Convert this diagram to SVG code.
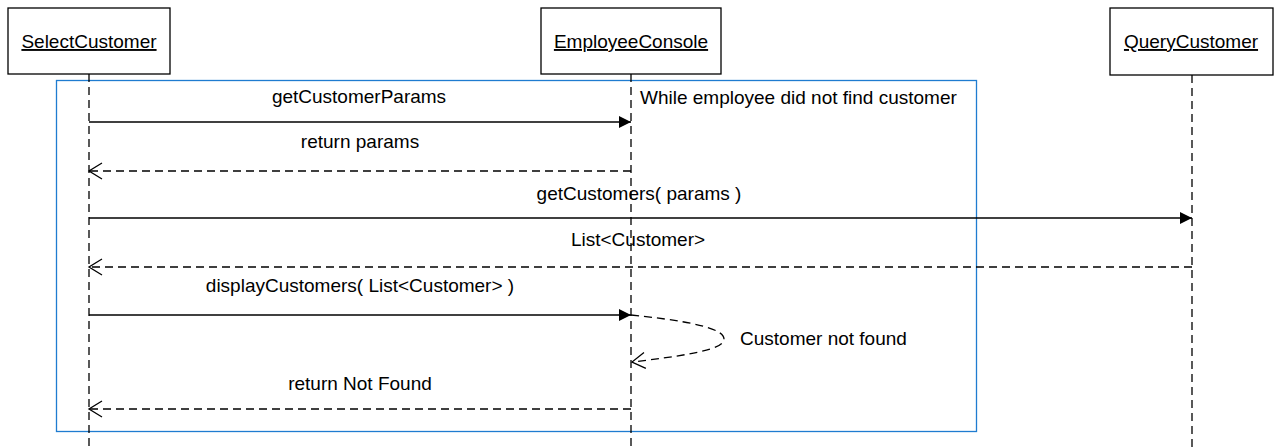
<svg xmlns="http://www.w3.org/2000/svg" width="1274" height="447" viewBox="0 0 1274 447">
<style>
text{font-family:"Liberation Sans",Arial,sans-serif;font-size:19px;fill:#000}
.box{fill:#fff;stroke:#000;stroke-width:1.3}
.life{stroke:#000;stroke-width:1.3;stroke-dasharray:8,5;fill:none}
.msg{stroke:#000;stroke-width:1.3;fill:none}
.ret{stroke:#000;stroke-width:1.3;fill:none;stroke-dasharray:8,5}
.u{text-decoration:underline}
</style>
<defs>
<marker id="fill" markerWidth="14" markerHeight="14" refX="12" refY="7" orient="auto" markerUnits="userSpaceOnUse"><path d="M0,1 L12,7 L0,13 Z" fill="#000"/></marker>
<marker id="open" markerWidth="16" markerHeight="20" refX="14" refY="10" orient="auto" markerUnits="userSpaceOnUse"><path d="M1,2 L14,10 L1,18" fill="none" stroke="#000" stroke-width="1.3"/></marker>
</defs>
<g id="frame">
<rect x="56.5" y="80.5" width="920" height="351" fill="none" stroke="#1f7cd0" stroke-width="1.3"/>
<text x="640" y="104">While employee did not find customer</text>
</g>
<g id="lifelines">
<line class="life" x1="89" y1="74" x2="89" y2="447"/>
<line class="life" x1="631" y1="74" x2="631" y2="447"/>
<line class="life" x1="1192" y1="75" x2="1192" y2="447"/>
</g>
<g id="SelectCustomer">
<rect class="box" x="8" y="8" width="162" height="66"/>
<text class="u" x="89" y="48" text-anchor="middle">SelectCustomer</text>
</g>
<g id="EmployeeConsole">
<rect class="box" x="541" y="8" width="180" height="66"/>
<text class="u" x="631" y="48" text-anchor="middle">EmployeeConsole</text>
</g>
<g id="QueryCustomer">
<rect class="box" x="1110" y="8" width="163" height="67"/>
<text class="u" x="1191" y="48" text-anchor="middle">QueryCustomer</text>
</g>
<g id="connectors">
<line class="msg" x1="89" y1="122" x2="631" y2="122" marker-end="url(#fill)"/>
<text x="359" y="103" text-anchor="middle">getCustomerParams</text>
<line class="ret" x1="631" y1="171" x2="89" y2="171" marker-end="url(#open)"/>
<text x="360" y="148" text-anchor="middle">return params</text>
<line class="msg" x1="89" y1="218" x2="1192" y2="218" marker-end="url(#fill)"/>
<text x="639" y="200" text-anchor="middle">getCustomers( params )</text>
<line class="ret" x1="1192" y1="267" x2="89" y2="267" marker-end="url(#open)"/>
<text x="638" y="246" text-anchor="middle">List&lt;Customer&gt;</text>
<line class="msg" x1="89" y1="315" x2="631" y2="315" marker-end="url(#fill)"/>
<text x="360" y="292" text-anchor="middle">displayCustomers( List&lt;Customer&gt; )</text>
<path class="ret" d="M631,315 C700,322 724,330 724,339 C724,348 700,354 632,362" marker-end="url(#open)"/>
<text x="740" y="345">Customer not found</text>
<line class="ret" x1="631" y1="409" x2="89" y2="409" marker-end="url(#open)"/>
<text x="360" y="390" text-anchor="middle">return Not Found</text>
</g>
</svg>
